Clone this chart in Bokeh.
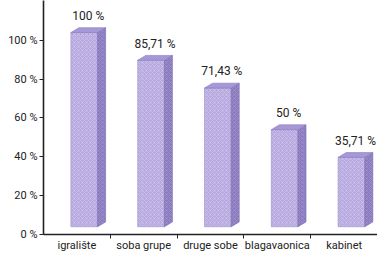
from bokeh.plotting import figure
from bokeh.models import ColumnDataSource, FixedTicker, PrintfTickFormatter, Range1d
from bokeh.core.properties import value
from bokeh.embed import file_html
from bokeh.resources import INLINE

categories = ["igralište", "soba grupe", "druge sobe", "blagavaonica", "kabinet"]
values = [100, 85.71, 71.43, 50, 35.71]
value_labels = ["100 %", "85,71 %", "71,43 %", "50 %", "35,71 %"]
y_ticks = [0, 20, 40, 60, 80, 100]

FONT = "Roboto"
left_off, bw, dx, dz, lift = 0.41, 0.40, 0.12, 2.5, 4.0

n = len(categories)
x0 = [i + left_off for i in range(n)]
x1 = [a + bw for a in x0]
bot = [lift] * n
top = [v + lift for v in values]

front = ColumnDataSource(dict(left=x0, right=x1, bottom=bot, top=top))
side_xs = [[b, b + dx, b + dx, b] for b in x1]
side_ys = [[lo, lo + dz, hi + dz, hi] for lo, hi in zip(bot, top)]
top_xs = [[a, a + dx, b + dx, b] for a, b in zip(x0, x1)]
top_ys = [[hi, hi + dz, hi + dz, hi] for hi in top]

p = figure(width=377, height=254, output_backend="svg", toolbar_location=None,
           x_range=Range1d(0, 5), y_range=Range1d(0, 120.5),
           min_border_top=0, min_border_right=0, min_border_left=43, min_border_bottom=0)
p.outline_line_color = None
p.grid.visible = False
p.background_fill_color = "white"
p.border_fill_color = "white"

p.quad(left="left", right="right", bottom="bottom", top="top", source=front,
       fill_color="#b8aae0", line_color="#9a8ccc", line_width=0.6,
       hatch_pattern="x", hatch_color="white", hatch_alpha=0.35, hatch_scale=4, hatch_weight=0.6)
p.patches(side_xs, side_ys, fill_color="#8a7bbf", line_color="#7a6bb0", line_width=0.6,
          hatch_pattern="x", hatch_color="white", hatch_alpha=0.2, hatch_scale=4, hatch_weight=0.6)
p.patches(top_xs, top_ys, fill_color="#a697d6", line_color="#8a7bbf", line_width=0.6)

lab = ColumnDataSource(dict(x=[a + (bw + dx) / 2 for a in x0],
                            y=[t + dz + 2.5 for t in top], t=value_labels))
p.text(x="x", y="y", text="t", source=lab, text_align="center", text_baseline="bottom",
       text_font=value(FONT), text_font_size="12px", text_color="#222222")

p.yaxis.ticker = FixedTicker(ticks=y_ticks)
p.yaxis.formatter = PrintfTickFormatter(format="%d %%")
p.yaxis.major_tick_in = 0
p.yaxis.major_tick_out = 4
p.yaxis.minor_tick_line_color = None
p.yaxis.axis_line_width = 1.6
p.yaxis.axis_line_color = "#222222"
p.yaxis.major_tick_line_color = "#222222"
p.yaxis.major_label_text_font = FONT
p.yaxis.major_label_text_font_size = "11px"
p.yaxis.major_label_text_color = "#222222"
p.yaxis.major_label_standoff = 2

centers = [i + 0.5 for i in range(n)]
p.xaxis.ticker = FixedTicker(ticks=centers, minor_ticks=[1, 2, 3, 4])
p.xaxis.major_label_overrides = {c: name for c, name in zip(centers, categories)}
p.xaxis.major_tick_line_color = None
p.xaxis.major_tick_out = 0
p.xaxis.major_tick_in = 0
p.xaxis.minor_tick_in = 0
p.xaxis.minor_tick_out = 4
p.xaxis.minor_tick_line_color = "#222222"
p.xaxis.axis_line_width = 1.6
p.xaxis.axis_line_color = "#222222"
p.xaxis.major_label_text_font = FONT
p.xaxis.major_label_text_font_size = "11px"
p.xaxis.major_label_text_line_height = 1.0
p.xaxis.major_label_text_color = "#222222"
p.xaxis.major_label_standoff = 0
p.xaxis.axis_label = None

open("out.html", "w").write(file_html(p, INLINE))
